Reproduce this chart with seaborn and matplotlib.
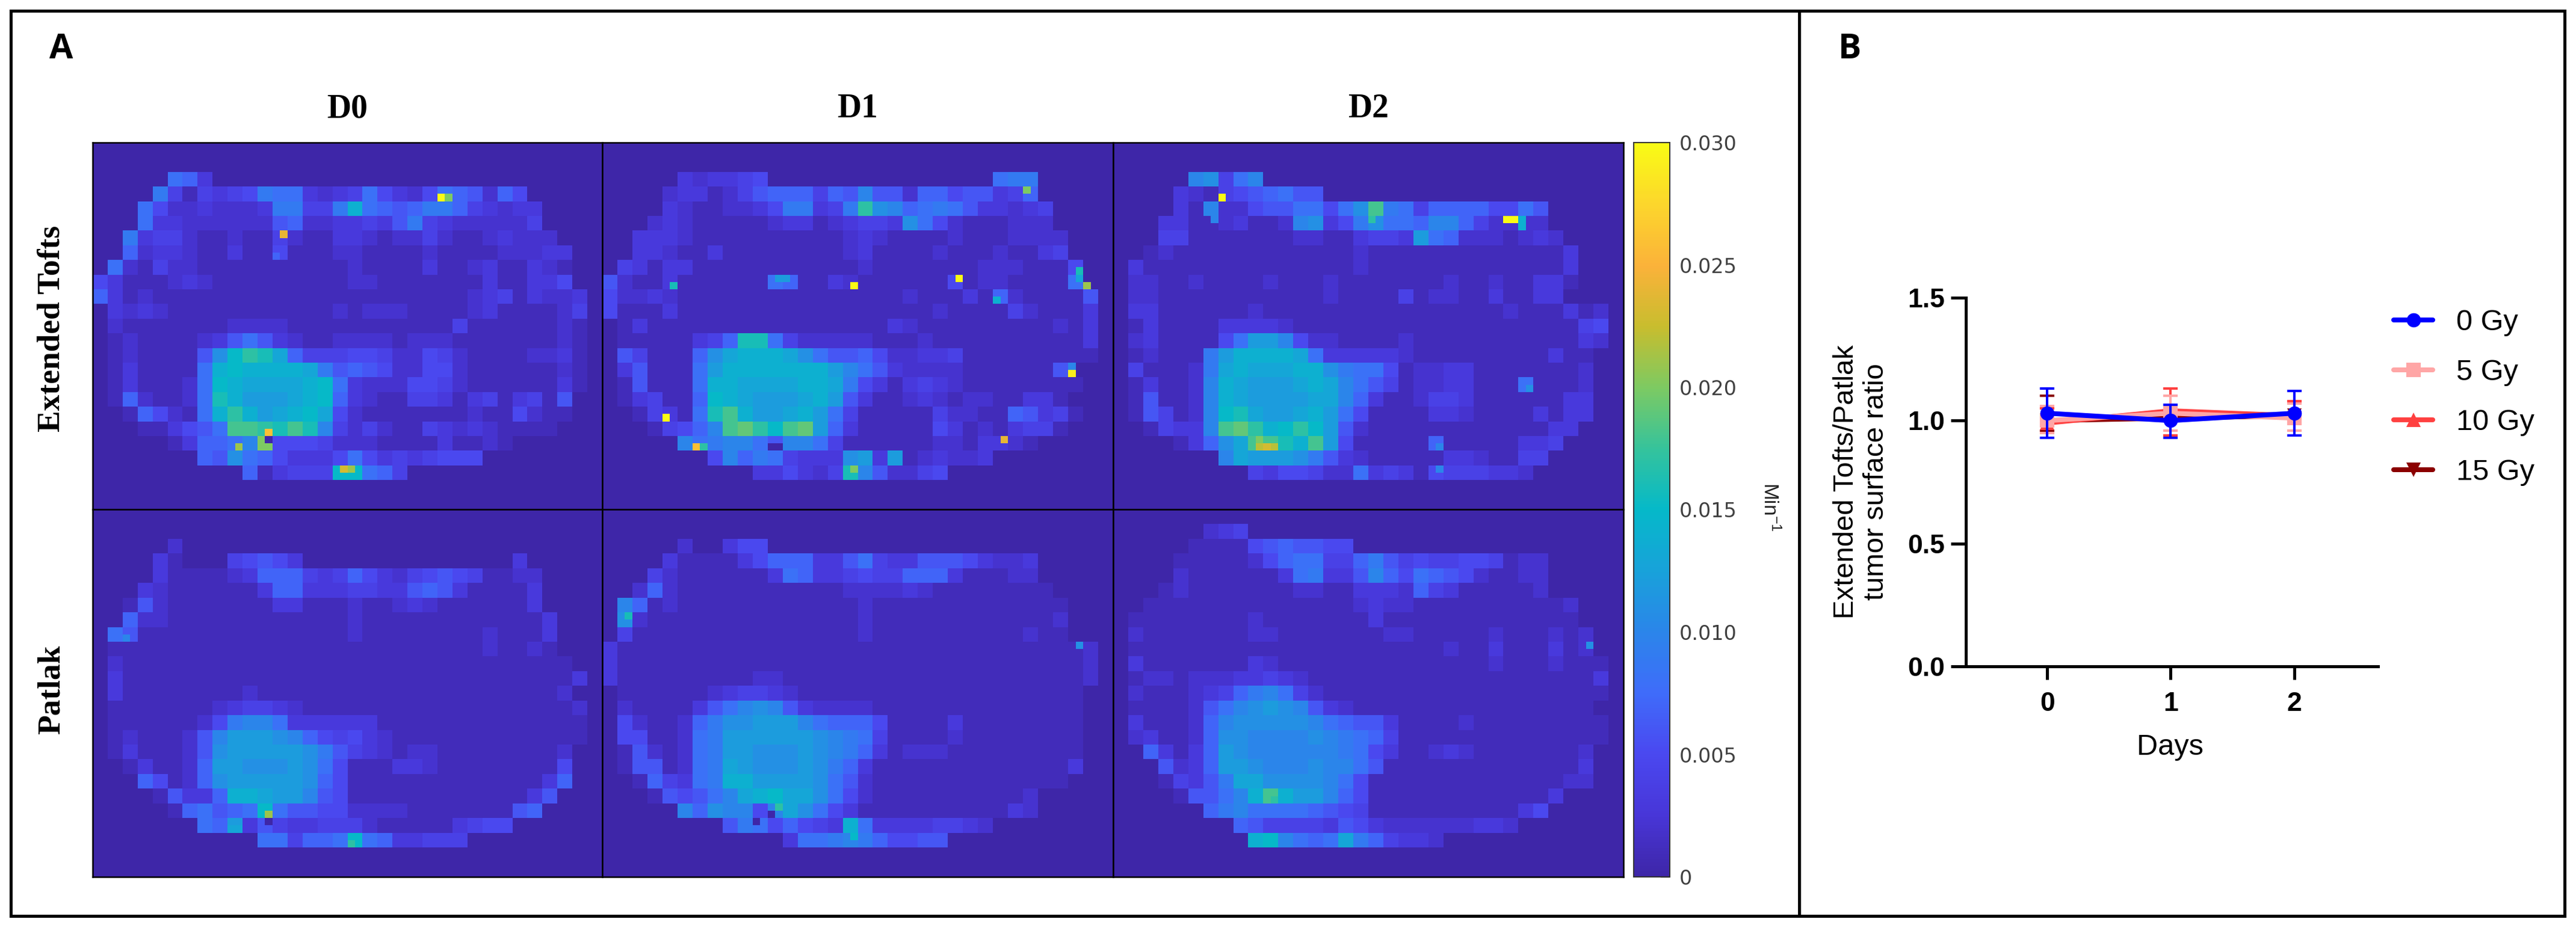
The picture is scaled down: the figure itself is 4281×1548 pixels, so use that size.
import numpy as np
import pandas as pd
import matplotlib
matplotlib.use("Agg")
import matplotlib.pyplot as plt
from matplotlib.colors import LinearSegmentedColormap
from matplotlib.patches import Rectangle
from matplotlib.lines import Line2D
import seaborn as sns

# map values on a 34x25 grid, one base-36 char per cell, in 1/1000 min-1
tofts_d0 = ["", "", "00000873",
    "00009414345988323485325876275",
    "00085223222399449e876799743233",
    "000833222222672233436943222224",
    "0093442112114211332122421123222",
    "00723321131151112211112111122233",
    "08214221111111111211113112311321",
    "531112321111111112211111113113350",
    "731211111111111111111111123413223",
    "032321111111111121222111123111124",
    "021111111222211111111111411111121",
    "012111123686321122221222111111121",
    "01211116bfhgd74445542254211112231",
    "01311118efeeeed967652255211111121",
    "01311128feddddef83222554211111131",
    "01721128gecccdef73211443134134160",
    "00175218ehecdefd52111111121152110",
    "000113568iihgiga424211432321111",
    "0000013778ak5554222111131121",
    "000000076b8753335853434555",
    "0000000000713444ff874"]
tofts_d1 = ["", "", "00000323345000000000000000899",
    "00002331246777476a66277566347",
    "00003211223599349hba7898633234",
    "00023211111233123443b852111222",
    "0033321111111111232111121112222",
    "0033211311111111231111211121134",
    "04313311111111111211111112221115",
    "62113111111871132111111512211118",
    "522321111111111111112111317211116",
    "511131111111111111111121111421113",
    "013111111111111111132111111111213",
    "011111347gg8422222111211111111113",
    "0641117bdeeedb8667522334111111111",
    "0361118ceeeeeeeca86322221111116",
    "0161118eeddddeed95313432111111110",
    "0134117fedcccdec631123212211331",
    "0014318gieccdec84111114221176341",
    "0001457aijhfijc7311111531213441",
    "00000a89aa86aa841111112213321",
    "00000005a7984333bc3c123223",
    "0000000000335324ga62245"]
tofts_d2 = ["", "", "00000ab48a",
    "00003214567866",
    "000031a225668858bi98477775586",
    "000331123112ab359b887aa742222",
    "00044111111122113443c872221232",
    "0012111111111111211111111111113",
    "0311111111111111211111111111113",
    "0221121111211121111111211211331",
    "022111111111112111141221131133",
    "033111111211111111111111112111312",
    "013111133332111111111111111111145",
    "023111158cca522111121111111111132",
    "0121119ceeeed8333332111111111311",
    "0411129dedddeeb98851223311111112",
    "013112aedcccdeda8641223311181112",
    "016112aedccccdda7311244311111133",
    "016412afgdccdec85111133211113133",
    "001433aijhefhfc6211111111111133",
    "0000137bdiigeic511111711111334",
    "0000000adcccb9632111113321144",
    "0000000004355422834315444332"]
patlak_d0 = ["", "", "000002",
    "00003100045653000000000000003",
    "000031111237774347532456541122",
    "000321111113773334433676311113",
    "001621111111331112112321111113",
    "0072211111111111121111111111113",
    "0861111111111111121111111121113",
    "0111111111111111111111111121121",
    "02111111111111111111111111111111",
    "031111111111111111111111111111113",
    "03111111112111111111111111111112",
    "011111112344321111111111111111112",
    "0111111259aa833333311111111111111",
    "01211126acccba7545321111111111111",
    "01311126bcccccb96432122111111112",
    "00131127ccbbbcb85111332111111115",
    "00075127bcccccb75111111111111137",
    "000016337eedcca6511111111111136",
    "000001786 78f866552222111111167",
    "000000087c364334442111113455",
    "00000000000884778f8733444"]
patlak_d1 = ["", "", "00000200355",
    "00003111135777336843366653223",
    "00042111111387334544777311122",
    "002721111111111122223211111111",
    "0a71211111111111121111111111111",
    "0b21111111111111121111111111112",
    "0411111111111111121111111111211",
    "311111111111111111111111111111112",
    "311111111111111111111111111111112",
    "311111111122111111111111111111112",
    "01111112344321111111111111111111",
    "021111368aba63222211111111111111",
    "05211279bbccca877751111311111111",
    "05511289ccccccba9841111211111111",
    "01621289ccbbbcba9731222111111111",
    "01661289dcbbbcb97311111111111113",
    "00174389eeccccb8621111111111111",
    "00016568adefddb85211111111112",
    "00000a7baa5adb853111111111132",
    "0000000069857543e833334432",
    "0000000000003889a975566"]
patlak_d2 = ["", "000000234", "0000011115676655",
    "00001111125788447964544554122",
    "00002111111389336a75876521122",
    "00012111111122113332743111112",
    "0011111111111111232211111111112",
    "0111111112111111131111111111111",
    "02111111122111111122111112111212",
    "01111111111111111111112113111312",
    "031111111321111111111111121112111",
    "012212223343211111111111111111113",
    "0211123479a8421111111111111111111",
    "01111268abcba6321111111111111111",
    "0311127abbbbba8766311112111111111",
    "0231127bbaaaaba987411111111111111",
    "0073137cbaaaaaa98531123211111112",
    "0006237ccbaaabaa8611111111111113",
    "00014369ddbbbba85111111111111122",
    "00001668aeiecca751111111111113",
    "00000079a88887654111111111135",
    "000000007644443653222222332",
    "000000000efa878d974332"]

# single bright or dark pixels on the fine grid: (row, col, value)
hot_tofts_d0 = [(7, 46, 0.03), (7, 47, 0.02), (12, 25, 0.024), (39, 23, 0.026), (40, 23, 0.0), (41, 19, 0.021),
                (44, 33, 0.023), (44, 34, 0.021), (15, 24, 0.007)]
hot_tofts_d1 = [(19, 33, 0.03), (18, 47, 0.03), (31, 62, 0.029), (30, 62, 0.01), (37, 8, 0.03), (41, 12, 0.026),
                (41, 13, 0.017), (40, 53, 0.024), (19, 64, 0.021), (17, 63, 0.016), (18, 63, 0.013), (6, 56, 0.02),
                (19, 9, 0.016), (21, 52, 0.014), (18, 24, 0.012), (18, 23, 0.012), (42, 38, 0.012), (44, 33, 0.02),
                (41, 22, 0.0), (41, 23, 0.0)]
hot_tofts_d2 = [(7, 14, 0.03), (10, 52, 0.03), (10, 53, 0.03), (10, 54, 0.014), (11, 54, 0.014), (10, 13, 0.01),
                (41, 43, 0.01), (44, 43, 0.01), (33, 55, 0.011), (10, 34, 0.017), (41, 19, 0.022), (41, 20, 0.023),
                (41, 21, 0.022), (40, 19, 0.02)]
hot_patlak_d0 = [(41, 23, 0.021), (42, 23, 0.0), (45, 34, 0.017), (17, 4, 0.01), (43, 18, 0.013), (43, 19, 0.013)]
hot_patlak_d1 = [(14, 3, 0.016), (18, 63, 0.011), (40, 23, 0.017), (41, 22, 0.0), (42, 20, 0.0), (44, 33, 0.015)]
hot_patlak_d2 = [(18, 63, 0.011), (38, 21, 0.018), (39, 21, 0.017)]

col_titles = ["D0", "D1", "D2"]
row_titles = ["Extended Tofts", "Patlak"]
cbar_ticks = [0, 0.005, 0.010, 0.015, 0.020, 0.025, 0.030]
cbar_labels = ["0", "0.005", "0.010", "0.015", "0.020", "0.025", "0.030"]

# panel B
days = [0, 1, 2]
ratio_0 = [1.03, 1.00, 1.03]
ratio_5 = [1.00, 1.03, 1.01]
ratio_10 = [0.99, 1.04, 1.02]
ratio_15 = [1.00, 1.01, 1.02]
low_0 = [0.93, 0.93, 0.94]
low_5 = [0.95, 0.96, 0.96]
low_10 = [0.93, 0.94, 0.96]
low_15 = [0.96, 0.96, 0.96]
high_0 = [1.13, 1.065, 1.12]
high_5 = [1.06, 1.10, 1.07]
high_10 = [1.05, 1.13, 1.08]
high_15 = [1.10, 1.06, 1.08]

W, H = 4281, 1548


def box(left, top, right, bottom):
    # pixel box to figure fractions
    return [left / W, 1 - bottom / H, (right - left) / W, (bottom - top) / H]


def to_grid(rows, hot):
    rows = rows + [""] * (25 - len(rows))
    grid = np.array([[int(c, 36) / 1000 for c in r.replace(" ", "").ljust(34, "0")[:34]] for r in rows])
    grid = grid.repeat(2, axis=0).repeat(2, axis=1)
    for r, c, v in hot:
        grid[r, c] = v
    return grid


sns.set_theme(style="white")
plt.rcParams["font.family"] = ["Liberation Sans", "DejaVu Sans"]
plt.rcParams["mathtext.default"] = "regular"
plt.rcParams["text.color"] = "black"
plt.rcParams["axes.labelcolor"] = "black"
plt.rcParams["xtick.labelcolor"] = "black"
plt.rcParams["ytick.labelcolor"] = "black"

parula = LinearSegmentedColormap.from_list("parula_like", [
    (0.0, "#3e26a8"), (0.083, "#4836d8"), (0.167, "#4a48f0"), (0.25, "#3f6cfa"), (0.333, "#2b85ea"),
    (0.417, "#18a2da"), (0.5, "#05b9c9"), (0.583, "#35c39c"), (0.667, "#7dca62"), (0.75, "#c8bd2e"),
    (0.833, "#fbb23a"), (0.917, "#fcd62c"), (1.0, "#f9fb15")], N=256)

fig = plt.figure(figsize=(W / 100, H / 100), dpi=100, facecolor="white")

# panel frame
fig.add_artist(Rectangle((18 / W, 1 - 1523 / H), (4262 - 18) / W, (1523 - 18) / H, transform=fig.transFigure,
                         fill=False, edgecolor="black", linewidth=3.6))
fig.add_artist(Line2D([2990 / W, 2990 / W], [1 - 1523 / H, 1 - 18 / H], color="black", linewidth=3.6))
fig.text(102 / W, 1 - 82 / H, "A", fontsize=41, fontweight="bold", family="Open Sans", ha="center", va="center")
fig.text(3074 / W, 1 - 82 / H, "B", fontsize=41, fontweight="bold", family="Open Sans", ha="center", va="center")

# panel A, maps
maps = [[to_grid(tofts_d0, hot_tofts_d0), to_grid(tofts_d1, hot_tofts_d1), to_grid(tofts_d2, hot_tofts_d2)],
        [to_grid(patlak_d0, hot_patlak_d0), to_grid(patlak_d1, hot_patlak_d1), to_grid(patlak_d2, hot_patlak_d2)]]
col_edges = [154, 1001, 1850, 2698]
row_edges = [237, 847, 1458]
cbar_ax = fig.add_axes(box(2715, 237, 2775, 1458))

for i in range(2):
    for j in range(3):
        ax = fig.add_axes(box(col_edges[j], row_edges[i], col_edges[j + 1], row_edges[i + 1]))
        sns.heatmap(maps[i][j], ax=ax, cmap=parula, vmin=0, vmax=0.03, xticklabels=False, yticklabels=False,
                    cbar=(i == 0 and j == 0), cbar_ax=cbar_ax if (i == 0 and j == 0) else None,
                    cbar_kws={"ticks": cbar_ticks})
        for spine in ax.spines.values():
            spine.set_visible(True)
            spine.set_color("black")
            spine.set_linewidth(1.8)
        if i == 0:
            fig.text((col_edges[j] + col_edges[j + 1]) / 2 / W, 1 - 181 / H, col_titles[j], fontsize=40,
                     fontweight="bold", family="Liberation Serif", ha="center", va="center")
    fig.text(86 / W, 1 - [546, 1147][i] / H, row_titles[i], fontsize=38.5, fontweight="bold",
             family="Liberation Serif", rotation=90, ha="center", va="center")

cbar_ax.set_yticklabels(cbar_labels, fontsize=24, color="#404040", family="DejaVu Sans")
cbar_ax.tick_params(axis="y", direction="in", length=11.5, width=1, color="black", right=True, pad=11)
for spine in cbar_ax.spines.values():
    spine.set_visible(True)
    spine.set_color("#303030")
    spine.set_linewidth(1.2)
fig.text(2941 / W, 1 - 843 / H, "Min$^{-1}$", fontsize=24, rotation=270, ha="center", va="center", color="#202020")

# panel B, drawn from the back to the front so the 0 Gy line stays on top
ax = fig.add_axes(box(3267, 495, 3952, 1108))
series = [("15 Gy", ratio_15, low_15, high_15, "#8b0000", "v"),
          ("10 Gy", ratio_10, low_10, high_10, "#ff4040", "^"),
          ("5 Gy", ratio_5, low_5, high_5, "#ffa6a6", "s"),
          ("0 Gy", ratio_0, low_0, high_0, "#0000ff", "o")]
for z, (dose, ratio, low, high, color, marker) in enumerate(series):
    df = pd.DataFrame({"Days": days, "ratio": ratio})
    sns.lineplot(data=df, x="Days", y="ratio", ax=ax, color=color, marker=marker, markersize=17,
                 markeredgewidth=0, linewidth=5.8, errorbar=None, label=dose, zorder=3 + z)
    ax.errorbar(days, ratio, yerr=[np.array(ratio) - np.array(low), np.array(high) - np.array(ratio)], fmt="none",
                ecolor=color, elinewidth=2.9, capsize=8.6, capthick=2.9, zorder=3 + z)

ax.set_xlim(-0.66, 2.68)
ax.set_ylim(0, 1.5)
ax.set_xticks(days)
ax.set_yticks([0, 0.5, 1.0, 1.5])
ax.set_yticklabels(["0.0", "0.5", "1.0", "1.5"])
ax.tick_params(axis="both", which="major", labelsize=32, width=3.6, color="black", left=True, bottom=True)
ax.tick_params(axis="y", length=18, pad=7)
ax.tick_params(axis="x", length=16, pad=14)
for label in ax.get_xticklabels() + ax.get_yticklabels():
    label.set_fontweight("bold")
ax.spines["top"].set_visible(False)
ax.spines["right"].set_visible(False)
for side in ["left", "bottom"]:
    ax.spines[side].set_color("black")
    ax.spines[side].set_linewidth(3.6)
ax.patch.set_alpha(0)

ax.set_xlabel("Days", fontsize=35, va="center")
ax.xaxis.set_label_coords(0.496, -0.219)
ax.set_ylabel("Extended Tofts/Patlak\ntumor surface ratio", fontsize=34, va="center", linespacing=1.2)
ax.yaxis.set_label_coords(-0.254, 0.5)

handles, labels = ax.get_legend_handles_labels()
ax.legend(handles[::-1], labels[::-1], loc="upper left", bbox_to_anchor=(3978 / W, 1 - 514 / H),
          bbox_transform=fig.transFigure, frameon=False, fontsize=35, borderpad=0, borderaxespad=0,
          handlelength=1.34, handletextpad=0.8, labelspacing=0.78)

fig.savefig("out.png", dpi=100)
